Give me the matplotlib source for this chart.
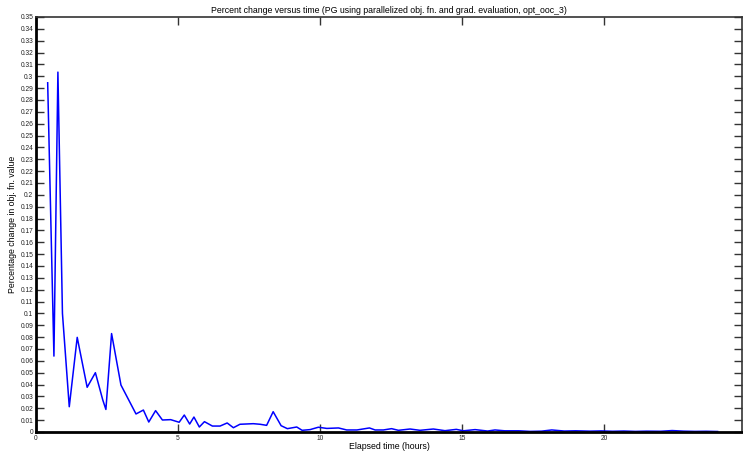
import matplotlib.pyplot as plt
import numpy as np
from matplotlib.ticker import FixedLocator

plt.rcParams['font.family'] = ['Liberation Sans', 'DejaVu Sans']

# elapsed time (hours) and percent change in objective function value
hours = [
    0.41, 0.63, 0.77, 0.93, 1.17, 1.45, 1.80, 2.09, 2.35, 2.46, 2.66, 2.99,
    3.52, 3.78, 3.97, 4.21, 4.45, 4.74, 5.04, 5.22, 5.41, 5.56, 5.75, 5.93,
    6.21, 6.48, 6.73, 6.95, 7.18, 7.65, 7.89, 8.12, 8.35, 8.63, 8.85, 9.18,
    9.37, 9.65, 9.94, 10.24, 10.65, 10.94, 11.30, 11.74, 11.94, 12.23, 12.52,
    12.76, 13.17, 13.52, 13.99, 14.40, 14.80, 15.05, 15.46, 15.90, 16.16,
    16.50, 17.00, 17.40, 17.80, 18.16, 18.60, 19.00, 19.50, 19.90, 20.30,
    20.70, 21.10, 21.50, 22.00, 22.40, 22.80, 23.20, 23.60, 24.00,
]
pct_change = [
    0.2945, 0.064, 0.3035, 0.100, 0.0213, 0.0798, 0.0377, 0.050, 0.027, 0.019,
    0.083, 0.0396, 0.0152, 0.0185, 0.0084, 0.018, 0.0101, 0.0104, 0.0082,
    0.0143, 0.0067, 0.0126, 0.0042, 0.0087, 0.005, 0.005, 0.0076, 0.0036,
    0.0065, 0.007, 0.0065, 0.0056, 0.0171, 0.0053, 0.0028, 0.0042, 0.0014,
    0.002, 0.004, 0.003, 0.0034, 0.0017, 0.0017, 0.0034, 0.0017, 0.0017,
    0.0028, 0.0014, 0.0025, 0.0014, 0.0025, 0.0011, 0.0022, 0.001, 0.002,
    0.0008, 0.0017, 0.001, 0.001, 0.0005, 0.0007, 0.0017, 0.0008, 0.001,
    0.0007, 0.0009, 0.0006, 0.0008, 0.0005, 0.0007, 0.0006, 0.0012, 0.0007,
    0.0005, 0.0006, 0.0004,
]

ytick_vals = np.round(np.arange(0, 0.351, 0.01), 2)
ytick_labels = ['0' if v == 0 else f'{v:g}' for v in ytick_vals]
xtick_vals = [0, 5, 10, 15, 20]

fig = plt.figure(figsize=(7.43, 4.54), dpi=100)
ax = fig.add_axes([0.0485, 0.0485, 0.9502, 0.9141])

ax.plot(hours, pct_change, color='#0000ff', linewidth=1.1)

ax.set_xlim(0, 24.86)
ax.set_ylim(0, 0.35)
ax.xaxis.set_major_locator(FixedLocator(xtick_vals))
ax.set_xticklabels([str(v) for v in xtick_vals])
ax.yaxis.set_major_locator(FixedLocator(ytick_vals))
ax.set_yticklabels(ytick_labels)

ax.tick_params(axis='both', direction='in', top=True, right=True,
               labelsize=4.8, labelcolor='#222222', width=1.0, length=6,
               pad=2, color='#333333')

for side in ['left', 'bottom']:
    ax.spines[side].set_linewidth(2.0)
    ax.spines[side].set_color('black')
for side in ['top', 'right']:
    ax.spines[side].set_linewidth(1.2)
    ax.spines[side].set_color('#333333')

ax.set_title('Percent change versus time (PG using parallelized obj. fn. and grad. evaluation, opt_ooc_3)',
             fontsize=6.3, pad=3)
ax.set_xlabel('Elapsed time (hours)', fontsize=6.3, labelpad=0)
ax.set_ylabel('Percentage change in obj. fn. value', fontsize=6.3)
ax.yaxis.set_label_coords(-0.027, 0.5)

fig.savefig('out.png', dpi=100)
